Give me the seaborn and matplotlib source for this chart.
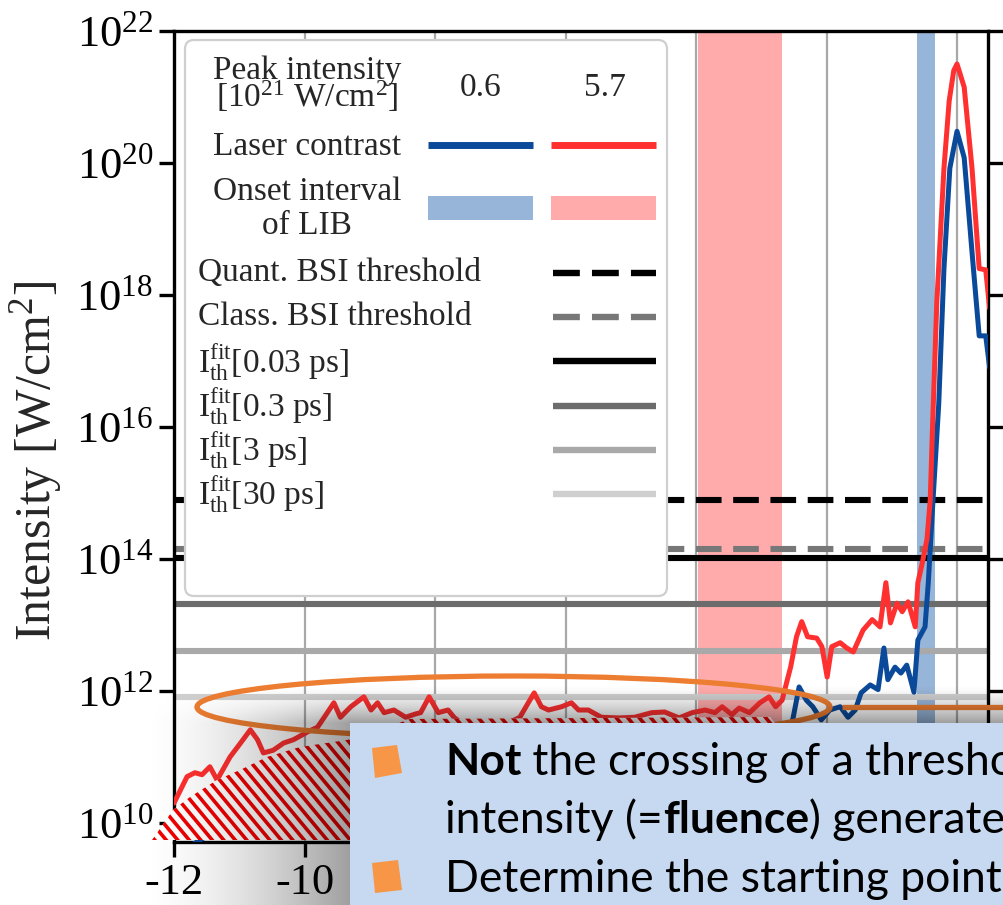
import numpy as np
import matplotlib
matplotlib.use("Agg")
import matplotlib.pyplot as plt
import matplotlib.patches as mpatches
from matplotlib.ticker import NullLocator
import seaborn as sns

# 1. values (time in ps, log10 of intensity in W/cm^2)
t_red = [-12.0, -11.9, -11.8, -11.68, -11.57, -11.45, -11.34, -11.14, -10.98, -10.83,
         -10.72, -10.63, -10.48, -10.32, -10.17, -9.95, -9.8, -9.65, -9.55, -9.45,
         -9.29, -9.09, -8.98, -8.88, -8.78, -8.63, -8.45, -8.3, -8.22, -8.09,
         -7.95, -7.8, -7.7, -7.5, -7.3, -7.1, -6.9, -6.7, -6.57, -6.48,
         -6.37, -6.26, -6.06, -5.91, -5.8, -5.65, -5.45, -5.18, -4.94, -4.68,
         -4.48, -4.26, -4.06, -3.86, -3.71, -3.6, -3.45, -3.34, -3.18, -3.02,
         -2.88, -2.78, -2.68, -2.6, -2.55, -2.46, -2.38, -2.29, -2.15, -2.07,
         -1.99, -1.92, -1.79, -1.69, -1.59, -1.44, -1.30, -1.18, -1.09, -1.02,
         -0.92, -0.84, -0.75, -0.64, -0.60, -0.54, -0.46, -0.41, -0.38, -0.31,
         -0.20, -0.12, -0.05, 0.0, 0.11, 0.23, 0.34, 0.44, 0.50]
log_red = [10.3, 10.5, 10.70, 10.76, 10.73, 10.85, 10.65, 11.0, 11.21, 11.41,
           11.26, 11.06, 11.1, 11.21, 11.26, 11.38, 11.45, 11.67, 11.82, 11.6,
           11.76, 11.91, 11.71, 11.82, 11.67, 11.71, 11.6, 11.65, 11.67, 11.91,
           11.67, 11.71, 11.59, 11.45, 11.4, 11.45, 11.5, 11.6, 11.82, 11.97,
           11.76, 11.71, 11.76, 11.82, 11.71, 11.71, 11.6, 11.59, 11.6, 11.67,
           11.68, 11.59, 11.67, 11.71, 11.67, 11.76, 11.64, 11.74, 11.67, 11.82,
           11.91, 11.76, 11.86, 12.17, 12.36, 12.82, 13.05, 12.82, 12.80, 12.67,
           12.21, 12.67, 12.73, 12.65, 12.59, 12.92, 13.08, 12.97, 13.64, 13.03,
           13.33, 13.20, 13.35, 12.97, 13.64, 13.9, 14.3, 14.9, 15.85, 17.88,
           19.92, 20.94, 21.4, 21.5, 21.15, 19.92, 18.4, 18.38, 17.8]

t_blue = [-12.0, -11.5, -11.0, -10.5, -10.0, -9.5, -9.0, -8.5, -8.0, -7.5,
          -7.0, -6.5, -6.0, -5.5, -5.0, -4.5, -4.0, -3.5, -3.0, -2.7,
          -2.58, -2.51, -2.42, -2.31, -2.21, -2.08, -1.95, -1.79, -1.67, -1.56,
          -1.47, -1.33, -1.21, -1.12, -1.06, -0.95, -0.86, -0.77, -0.66, -0.60,
          -0.49, -0.44, -0.37, -0.28, -0.20, -0.11, 0.0, 0.11, 0.23, 0.34,
          0.44, 0.50]
log_blue = [9.5, 9.8, 10.1, 10.2, 10.4, 10.7, 10.8, 10.7, 10.8, 10.6,
            10.6, 10.9, 10.8, 10.7, 10.7, 10.8, 10.8, 10.8, 10.9, 11.0,
            11.3, 11.6, 12.06, 11.86, 11.76, 11.56, 11.71, 11.76, 11.6, 11.71,
            11.97, 12.09, 12.02, 12.65, 12.17, 12.36, 12.27, 12.39, 11.98, 12.77,
            12.97, 13.64, 14.85, 16.35, 18.4, 19.92, 20.48, 20.08, 18.65, 17.38,
            17.38, 16.9]

peak_labels = ["0.6", "5.7"]
onset_blue = (-0.61, -0.34)
onset_red = (-3.97, -2.68)

thr_labels = ["Quant. BSI threshold", "Class. BSI threshold",
              r"$\mathrm{I}_{\mathrm{th}}^{\mathrm{fit}}$[0.03 ps]",
              r"$\mathrm{I}_{\mathrm{th}}^{\mathrm{fit}}$[0.3 ps]",
              r"$\mathrm{I}_{\mathrm{th}}^{\mathrm{fit}}$[3 ps]",
              r"$\mathrm{I}_{\mathrm{th}}^{\mathrm{fit}}$[30 ps]"]
thr_log = [14.89, 14.15, 14.02, 13.31, 12.61, 11.90]
thr_colors = ["#000000", "#777777", "#000000", "#6c6c6c", "#a9a9a9", "#cfcfcf"]
thr_dashed = [True, True, False, False, False, False]

xticks = [-12, -10, -8, -6, -4, -2, 0]
# only these two tick labels are left uncovered by the text box
xtick_labels = ["-12", "-10", "", "", "", "", ""]
ytick_exp = [10, 12, 14, 16, 18, 20, 22]

BLUE = "#0b4a9a"
RED = "#ff3030"
BAND_BLUE = "#97b5d8"
BAND_RED = "#ffabab"
DASH = (0, (4.2, 1.9))

# 2. style
sns.set_style("ticks")
plt.rcParams["font.family"] = ["Liberation Serif", "DejaVu Serif"]
plt.rcParams["mathtext.fontset"] = "custom"
plt.rcParams["mathtext.rm"] = "Liberation Serif"
plt.rcParams["mathtext.it"] = "Liberation Serif:italic"
plt.rcParams["mathtext.bf"] = "Liberation Serif:bold"
plt.rcParams["axes.unicode_minus"] = False

W, H = 1004, 905
fig = plt.figure(figsize=(W / 100, H / 100), dpi=100)
ax = fig.add_axes([174 / W, 1 - 842 / H, (988 - 174) / W, (842 - 31) / H])

# 3. the chart itself
ax.grid(True, axis="x", color="#a8a8a8", lw=1.6)
ax.grid(False, axis="y")
ax.set_axisbelow(True)
ax.axvspan(*onset_red, color=BAND_RED, lw=0, zorder=1)
ax.axvspan(*onset_blue, color=BAND_BLUE, lw=0, zorder=1)

for v, c, d in zip(thr_log, thr_colors, thr_dashed):
    ax.axhline(10 ** v, color=c, lw=4.4, ls=DASH if d else "-", zorder=2)

sns.lineplot(x=t_blue, y=10 ** np.array(log_blue), ax=ax, color=BLUE, lw=3.6,
             estimator=None, sort=False, zorder=3)
sns.lineplot(x=t_red, y=10 ** np.array(log_red), ax=ax, color=RED, lw=3.6,
             estimator=None, sort=False, zorder=3)

ax.set_yscale("log")
ax.set_xlim(-12, 0.475)
ax.set_ylim(10 ** 9.71, 1e22)
ax.set_yticks([10.0 ** e for e in ytick_exp])
ax.yaxis.set_minor_locator(NullLocator())
ax.set_xticks(xticks)
ax.set_xticklabels(xtick_labels)
ax.tick_params(which="major", direction="out", length=11, width=2.4,
               labelsize=32, pad=4, colors="black")
ax.tick_params(axis="y", left=True, right=True)
for s in ax.spines.values():
    s.set_visible(True)
    s.set_linewidth(2.4)
    s.set_color("black")
ax.set_xlabel("")
ax.set_ylabel("Intensity [W/cm$^2$]", fontsize=36)
ax.yaxis.set_label_coords(-0.135, 0.47)

# 4. overlay in pixel coordinates (legend table and slide annotations)
ov = fig.add_axes([0, 0, 1, 1], zorder=5)
ov.set_xlim(0, W)
ov.set_ylim(H, 0)
ov.set_autoscale_on(False)
ov.axis("off")

lf = 24
ov.add_patch(mpatches.FancyBboxPatch((185, 40), 482, 556,
             boxstyle="round,pad=0,rounding_size=9",
             fc="white", ec="#cfcfcf", lw=1.6, zorder=1))
ov.text(307, 79, "Peak intensity", ha="center", va="baseline", fontsize=lf, zorder=2)
ov.text(307, 107, "[10$^{21}$ W/cm$^2$]", ha="center", va="baseline", fontsize=lf, zorder=2)
ov.text(481, 88, peak_labels[0], ha="center", va="center", fontsize=lf, zorder=2)
ov.text(605, 88, peak_labels[1], ha="center", va="center", fontsize=lf, zorder=2)
ov.text(307, 147, "Laser contrast", ha="center", va="center", fontsize=lf, zorder=2)
ov.plot([428, 533], [145, 145], color=BLUE, lw=5, solid_capstyle="butt", zorder=2)
ov.plot([551, 656], [145, 145], color=RED, lw=5, solid_capstyle="butt", zorder=2)
ov.text(307, 192, "Onset interval", ha="center", va="center", fontsize=lf, zorder=2)
ov.text(307, 226, "of LIB", ha="center", va="center", fontsize=lf, zorder=2)
ov.add_patch(mpatches.Rectangle((428, 196), 105, 24, color=BAND_BLUE, lw=0, zorder=2))
ov.add_patch(mpatches.Rectangle((551, 196), 105, 24, color=BAND_RED, lw=0, zorder=2))

row_y = 273
for lab, c, d in zip(thr_labels, thr_colors, thr_dashed):
    ov.text(198, row_y, lab, ha="left", va="center", fontsize=lf, zorder=2)
    ov.plot([553, 656], [row_y, row_y], color=c, lw=4.6,
            ls=DASH if d else "-", solid_capstyle="butt", zorder=2)
    row_y += 44.2

# orange ellipse and connector
ORANGE = "#ed7d31"
ov.add_patch(mpatches.Ellipse((513.5, 707), 633, 62, fill=False, ec=ORANGE, lw=3.8, zorder=3))
ov.plot([842, W], [707, 707], color=ORANGE, lw=3.8, solid_capstyle="butt", zorder=3)

# red/white striped pointer
pointer = mpatches.Polygon([(152, 840), (157, 833), (173, 810), (190, 797), (217, 780),
                            (240, 770), (267, 757), (300, 747), (347, 740), (380, 730),
                            (410, 719), (770, 717), (775, 723), (775, 840)],
                           closed=True, fc="white", ec="none", zorder=4)
ov.add_patch(pointer)
for a in np.arange(-100, 800, 11.5):
    ln, = ov.plot([a, a + 150], [700, 880], color="#f00000", lw=2.6, zorder=4.5,
                  solid_capstyle="butt")
    ln.set_clip_path(pointer)

# soft shadow of the text box
xs = np.arange(100, W) + 0.5
ys = np.arange(640, H) + 0.5
fx = np.clip(1 - np.clip(350 - xs, 0, None) / 210, 0, 1) ** 1.6
fy = np.clip(1 - np.clip(723 - ys, 0, None) / 38, 0, 1) ** 1.4
shade = np.zeros((len(ys), len(xs), 4))
shade[..., 3] = 0.38 * np.outer(fy, fx)
ov.imshow(shade, extent=(100, W, H, 640), origin="upper", aspect="auto",
          interpolation="bilinear", zorder=5)
ov.set_xlim(0, W)
ov.set_ylim(H, 0)

# text box
ov.add_patch(mpatches.Rectangle((350, 723), 700, 200, fc="#c6d9f1", ec="none", zorder=6))
BUL = "#f79646"
ov.add_patch(mpatches.Polygon([(372, 748), (397, 745), (402, 773), (375, 778)], fc=BUL, ec="none", zorder=7))
ov.add_patch(mpatches.Polygon([(372, 863), (398, 860), (402, 890), (375, 893)], fc=BUL, ec="none", zorder=7))

renderer = fig.canvas.get_renderer()
box_fs = 32
lines = [
    (775, [("Not", "bold"), (" the crossing of a threshold", "normal")]),
    (833, [("intensity (=", "normal"), ("fluence", "bold"), (") generated", "normal")]),
    (892, [("Determine the starting point", "normal")]),
]
for y, parts in lines:
    x = 445
    for s, w in parts:
        t = ov.text(x, y, s, fontsize=box_fs, fontweight=w, family=["Lato", "DejaVu Sans"],
                    ha="left", va="baseline", color="black", zorder=8)
        x = t.get_window_extent(renderer).x1

fig.savefig("out.png", dpi=100, facecolor="white")
